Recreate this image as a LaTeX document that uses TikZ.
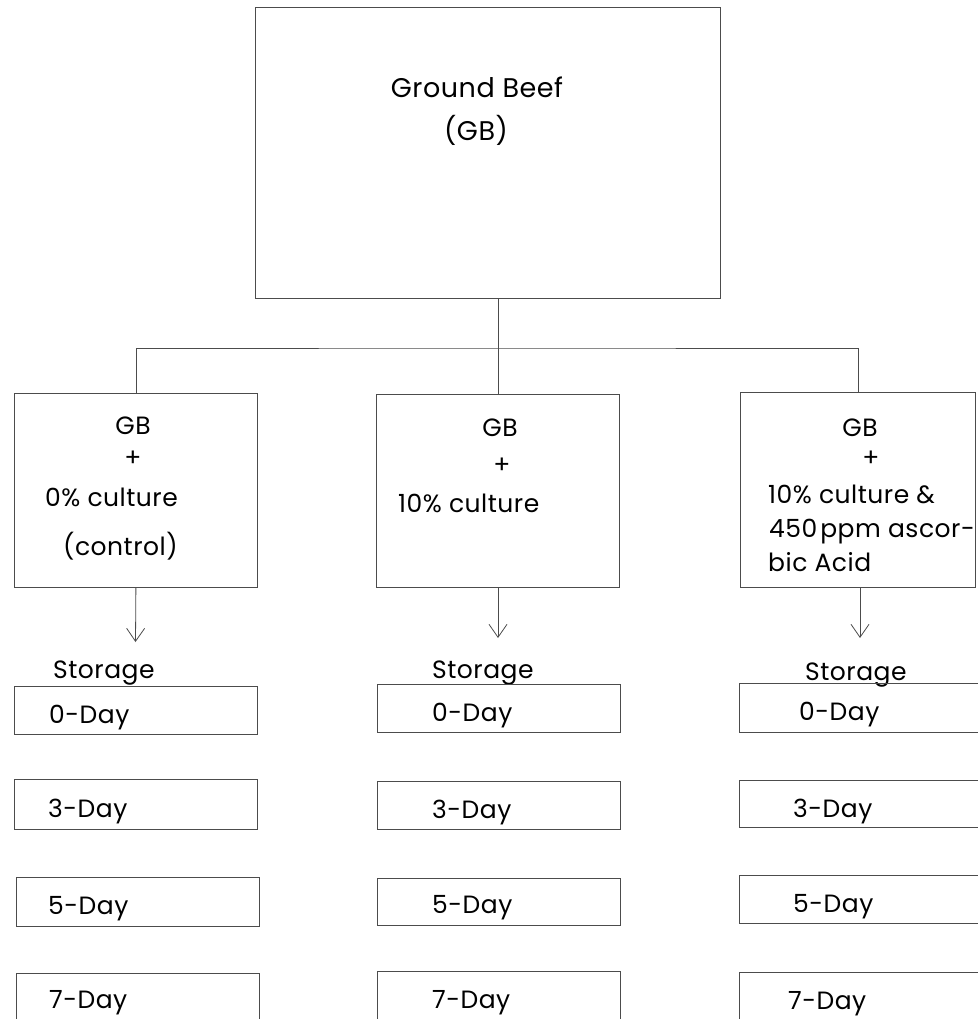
\documentclass[tikz,border=0pt]{standalone}
\usepackage{fontspec}
\setmainfont{Poppins}[LetterSpace=2]
\usetikzlibrary{arrows.meta}
\begin{document}
\begin{tikzpicture}[x=1pt,y=-1pt,
  line/.style={draw=black!70, line width=0.8pt},
  box/.style={line, rectangle, inner sep=0pt, anchor=north west},
  daybox/.style={box, minimum width=243pt, minimum height=49pt},
  lbl/.style={anchor=base, inner sep=0pt, font=\fontsize{25}{30}\selectfont},
  lblw/.style={anchor=base west, inner sep=0pt, font=\fontsize{25}{30}\selectfont},
  arr/.style={line, -{Straight Barb[length=13pt,width=18pt,line width=0.8pt]}}]
\useasboundingbox (0,0) rectangle (977,1019);
\fill[white] (0,0) rectangle (977,1019);

% main boxes
\node[box, minimum width=465pt, minimum height=291pt] (gb) at (255,7) {};
\node[box, minimum width=243pt, minimum height=194pt] (b1) at (14,393) {};
\node[box, minimum width=243pt, minimum height=193pt] (b2) at (376,394) {};
\node[box, minimum width=235pt, minimum height=195pt] (b3) at (740,392) {};

% texts in main boxes
\node[lbl, font=\fontsize{27}{32}\selectfont] (tgb1) at (477,98) {Ground Beef};
\node[lbl, font=\fontsize{27}{32}\selectfont] (tgb2) at (476,141) {(GB)};

\node[lbl] (t1a) at (133,434) {GB};
\node[lbl] (t1b) at (133,466) {+};
\node[lblw] (t1c) at (45,506) {0\% culture};
\node[lblw] (t1d) at (63,555) {(control)};

\node[lbl] (t2a) at (500,436) {GB};
\node[lbl] (t2b) at (502,473) {+};
\node[lblw] (t2c) at (398,512) {10\% culture};

\node[lbl] (t3a) at (860,436) {GB};
\node[lbl] (t3b) at (871,466) {+};
\node[lblw] (t3c) at (768,503) {10\% culture \&};
\node[lblw] (t3d) at (769,537) {450\hspace{3pt}ppm ascor-};
\node[lblw] (t3e) at (768,571) {bic Acid};

% connectors
\coordinate (bar) at (497,348);
\draw[line] (gb.south -| b2.north) -- (b2.north);
\draw[line] (b1.north) |- (bar) -| (b3.north);

\coordinate (s1) at (135.5,642);
\coordinate (s2) at (498,638);
\coordinate (s3) at (860,638);
\draw[arr] (b1.south) -- (s1);
\draw[arr] (b2.south -| s2) -- (s2);
\draw[arr] (b3.south -| s3) -- (s3);

% storage labels
\node[lblw] (st1) at (53,678) {Storage};
\node[lblw] (st2) at (432,678) {Storage};
\node[lblw] (st3) at (805,680) {Storage};

% day boxes column 1
\node[daybox, minimum height=48pt] (d10) at (14,686) {};
\node[daybox, minimum height=50pt] (d13) at (14,779) {};
\node[daybox] (d15) at (16,877) {};
\node[daybox, minimum height=70pt] (d17) at (16,973) {};
% column 2
\node[daybox, minimum height=48pt] (d20) at (377,684) {};
\node[daybox, minimum height=48pt] (d23) at (377,781) {};
\node[daybox, minimum height=47pt] (d25) at (377,878) {};
\node[daybox, minimum height=70pt] (d27) at (377,971) {};
% column 3
\node[daybox, minimum width=260pt] (d30) at (739,683) {};
\node[daybox, minimum width=260pt, minimum height=47pt] (d33) at (739,780) {};
\node[daybox, minimum width=260pt, minimum height=48pt] (d35) at (739,875) {};
\node[daybox, minimum width=260pt, minimum height=70pt] (d37) at (739,972) {};

% day labels
\node[lblw] (l10) at (49,723) {0-Day};
\node[lblw] (l13) at (48,817) {3-Day};
\node[lblw] (l15) at (48,914) {5-Day};
\node[lblw] (l17) at (49,1008) {7-Day};
\node[lblw] (l20) at (432,721) {0-Day};
\node[lblw] (l23) at (432,818) {3-Day};
\node[lblw] (l25) at (432,913) {5-Day};
\node[lblw] (l27) at (432,1008) {7-Day};
\node[lblw] (l30) at (799,720) {0-Day};
\node[lblw] (l33) at (793,817) {3-Day};
\node[lblw] (l35) at (793,912) {5-Day};
\node[lblw] (l37) at (788,1009) {7-Day};
\end{tikzpicture}
\end{document}
